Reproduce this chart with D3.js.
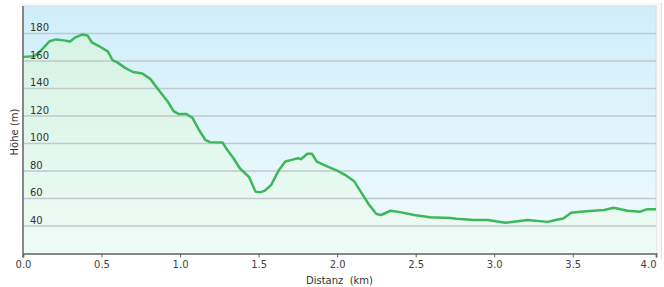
<!DOCTYPE html>
<html>
<head>
<meta charset="utf-8">
<script src="https://cdn.jsdelivr.net/npm/d3@7"></script>
<style>
  body { margin: 0; background: #fff; }
  svg { display: block; font-family: "DejaVu Sans", Verdana, sans-serif; }
</style>
</head>
<body>
<div id="chart"></div>
<script>
var width = 664,
    height = 287;

// Höhenprofil: Distanz (km) / Höhe (m)
var distanz = [0.00, 0.07, 0.10, 0.13, 0.17, 0.21, 0.26, 0.30, 0.33, 0.38, 0.41, 0.44, 0.49, 0.54, 0.57, 0.60,
  0.65, 0.70, 0.76, 0.81, 0.87, 0.92, 0.96, 0.99, 1.04, 1.08, 1.12, 1.16, 1.19, 1.27, 1.30, 1.34,
  1.38, 1.44, 1.48, 1.51, 1.54, 1.58, 1.63, 1.67, 1.71, 1.75, 1.77, 1.81, 1.84, 1.87, 1.94, 2.00,
  2.05, 2.11, 2.15, 2.20, 2.25, 2.28, 2.34, 2.40, 2.49, 2.59, 2.72, 2.76, 2.87, 2.96, 3.07, 3.21,
  3.34, 3.39, 3.44, 3.49, 3.55, 3.63, 3.70, 3.76, 3.85, 3.93, 3.97, 4.03];
var hoehe = [163, 163.5, 166, 169.6, 174.4, 175.7, 175, 174.2, 177, 179.3, 178.6, 173.3, 170.4, 167, 160.6, 159,
  155, 152, 150.9, 147, 138, 130.7, 123.4, 121.5, 121.5, 118.5, 110, 102.7, 101, 100.7, 95.4, 89.3,
  82, 75.5, 65, 64.5, 65.7, 69.9, 80.8, 86.9, 88.1, 89.3, 88.6, 92.5, 92.5, 86.9, 83.2, 80.3,
  77.2, 72.3, 65, 56, 48.7, 48, 51.1, 50.1, 48, 46.3, 45.8, 45.3, 44.3, 44.3, 42.3, 44.3,
  43, 44.3, 45.5, 49.6, 50.4, 51.1, 51.6, 53.3, 51.1, 50.4, 52.1, 52.1];

var yTicks = [40, 60, 80, 100, 120, 140, 160, 180];
var xTicks = [0, 0.5, 1.0, 1.5, 2.0, 2.5, 3.0, 3.5];

var data = distanz.map(function(d, i) { return {d: d, h: hoehe[i]}; });
var maxDist = d3.max(distanz);

var pLeft = 23, pRight = 656, pTop = 6, pBottom = 253.5;

var x = d3.scaleLinear().domain([0, maxDist]).range([pLeft, pRight]);
var y = d3.scaleLinear().domain([20, 200]).range([pBottom, pTop]);

var svg = d3.select("#chart").append("svg")
    .attr("width", width)
    .attr("height", height);

var defs = svg.append("defs");
var bg = defs.append("linearGradient").attr("id", "bg")
    .attr("x1", 0).attr("y1", 0).attr("x2", 0).attr("y2", 1);
bg.append("stop").attr("offset", "0%").attr("stop-color", "#cfeefa");
bg.append("stop").attr("offset", "100%").attr("stop-color", "#f1fbfe");

var gr = defs.append("linearGradient").attr("id", "gr")
    .attr("gradientUnits", "userSpaceOnUse")
    .attr("x1", 0).attr("y1", pTop).attr("x2", 0).attr("y2", pBottom);
gr.append("stop").attr("offset", "0%").attr("stop-color", "#d2f2e2");
gr.append("stop").attr("offset", "100%").attr("stop-color", "#eefcf6");

// Rahmen rechts / oben
svg.append("rect")
    .attr("x", pLeft).attr("y", 3)
    .attr("width", 661 - pLeft).attr("height", pBottom - 3)
    .attr("fill", "#f6f8f9");
svg.append("line")
    .attr("x1", 661.5).attr("x2", 661.5).attr("y1", 3).attr("y2", 260)
    .attr("stroke", "#dde1e3");

svg.append("rect")
    .attr("x", pLeft).attr("y", pTop)
    .attr("width", pRight - pLeft).attr("height", pBottom - pTop)
    .attr("fill", "url(#bg)")
    .attr("stroke", "#d5dadc");

var area = d3.area()
    .x(function(d) { return x(d.d); })
    .y0(pBottom)
    .y1(function(d) { return y(d.h); });

svg.append("path")
    .datum(data)
    .attr("d", area)
    .attr("fill", "url(#gr)");

// Gitterlinien
svg.selectAll(".grid")
  .data(yTicks)
  .enter()
  .append("line")
    .attr("x1", pLeft).attr("x2", pRight)
    .attr("y1", function(d) { return y(d); })
    .attr("y2", function(d) { return y(d); })
    .attr("stroke", "#bfc9cd")
    .attr("stroke-width", 1.5);

svg.append("path")
    .datum(data)
    .attr("d", d3.line().x(function(d) { return x(d.d); }).y(function(d) { return y(d.h); }))
    .attr("fill", "none")
    .attr("stroke", "#3cb85a")
    .attr("stroke-width", 2.5)
    .attr("stroke-linejoin", "round");

// y-Beschriftung innerhalb der Fläche
svg.selectAll(".ylab")
  .data(yTicks)
  .enter()
  .append("text")
    .attr("x", 30)
    .attr("y", function(d) { return y(d) - 2.5; })
    .attr("font-size", "10px")
    .attr("fill", "#333")
    .text(function(d) { return d; });

// Achsen
svg.append("line")
    .attr("x1", pLeft).attr("x2", pLeft).attr("y1", pTop).attr("y2", pBottom + 4)
    .attr("stroke", "#666").attr("stroke-width", 1.5);

var xAxis = d3.axisBottom(x)
    .tickValues(xTicks.concat([maxDist]))
    .tickSize(4)
    .tickFormat(d3.format(".1f"));

var gx = svg.append("g")
    .attr("transform", "translate(0," + pBottom + ")")
    .call(xAxis);
gx.select(".domain").attr("stroke", "#888").attr("stroke-width", 2);
gx.selectAll(".tick line").attr("stroke", "#666");
gx.selectAll(".tick text")
    .attr("font-family", "DejaVu Sans, Verdana, sans-serif")
    .attr("font-size", "10px")
    .attr("fill", "#444")
    .attr("dy", "0.9em")
    .attr("y", 5);
gx.selectAll(".tick").filter(function(d) { return d === maxDist; })
  .select("text").attr("text-anchor", "end");

svg.append("text")
    .attr("x", (pLeft + pRight) / 2)
    .attr("y", 284)
    .attr("text-anchor", "middle")
    .attr("font-size", "10px")
    .attr("fill", "#333")
    .attr("xml:space", "preserve")
    .text("Distanz  (km)");

svg.append("text")
    .attr("transform", "translate(18,132) rotate(-90)")
    .attr("text-anchor", "middle")
    .attr("font-size", "10px")
    .attr("fill", "#333")
    .text("Höhe (m)");
</script>
</body>
</html>
